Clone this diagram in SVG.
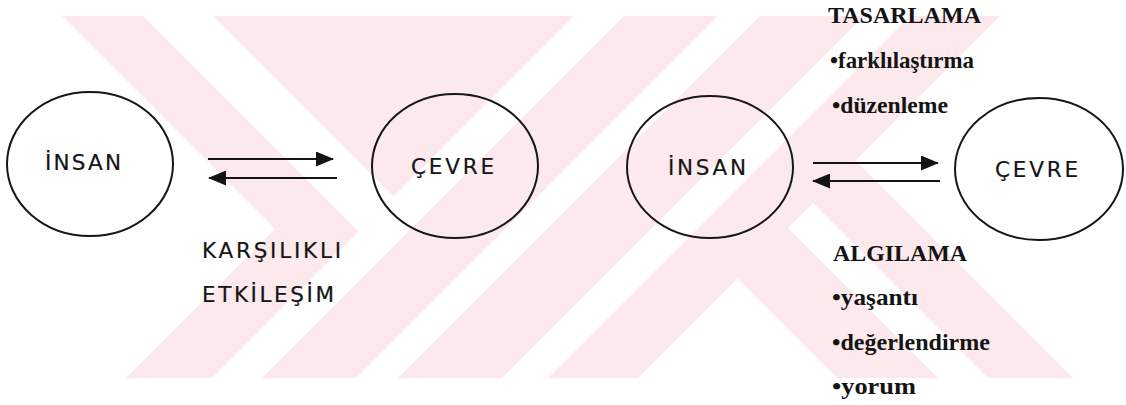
<svg xmlns="http://www.w3.org/2000/svg" width="1126" height="405" viewBox="0 0 1126 405">
  <style>
    .ring { fill: none; stroke: #161616; stroke-width: 2; }
    .sans { font-family: "DejaVu Sans", "Liberation Sans", sans-serif; font-size: 21.5px; fill: #151515; stroke: #151515; stroke-width: 0.2; }
    .serif { font-family: "Liberation Serif", "DejaVu Serif", serif; font-size: 24px; font-weight: bold; fill: #141414; }
    .link { stroke: #141414; stroke-width: 2; fill: none; marker-end: url(#head); }
    .wm { fill: #fce9ed; }
    .gap { fill: #ffffff; }
  </style>
  <defs>
    <marker id="head" markerUnits="userSpaceOnUse" markerWidth="18" markerHeight="15" refX="17" refY="7.5" orient="auto">
      <path d="M0,0 L18,7.5 L0,15 Z" fill="#141414"/>
    </marker>
  </defs>
  <rect width="1126" height="405" fill="#ffffff"/>

  <!-- background stripe pattern: a large striped X -->
  <g id="backdrop">
    <polygon class="wm" points="62,16 1000,16 855.5,160.5 1073,378 126,378 275,229"/>
    <polygon class="gap" points="143,16 213,16 393.5,196.5 358.5,231.5"/>
    <polygon class="gap" points="574,16 624,16 262,378 212,378"/>
    <polygon class="gap" points="718,16 760,16 398,378 356,378"/>
    <polygon class="gap" points="864,16 910,16 548,378 502,378"/>
    <polygon class="gap" points="638,378 737.5,278.5 837,378"/>
    <polygon class="gap" points="788,228 813,203 988,378 938,378"/>
  </g>

  <!-- left pair -->
  <g id="insan-1">
    <ellipse class="ring" cx="90" cy="164" rx="83" ry="72"/>
    <text class="sans" x="45" y="170" textLength="76" lengthAdjust="spacing">İNSAN</text>
  </g>
  <g id="cevre-1">
    <ellipse class="ring" cx="455" cy="166" rx="83" ry="72"/>
    <text class="sans" x="411" y="174" textLength="83" lengthAdjust="spacing">ÇEVRE</text>
  </g>
  <g id="label-1">
    <text class="sans" x="202" y="258" textLength="139" lengthAdjust="spacing">KARŞILIKLI</text>
    <text class="sans" x="202" y="302" textLength="132" lengthAdjust="spacing">ETKİLEŞİM</text>
  </g>

  <!-- right pair -->
  <g id="insan-2">
    <ellipse class="ring" cx="710" cy="167" rx="83" ry="71"/>
    <text class="sans" x="668" y="175" textLength="78" lengthAdjust="spacing">İNSAN</text>
  </g>
  <g id="cevre-2">
    <ellipse class="ring" cx="1039" cy="169" rx="84" ry="71"/>
    <text class="sans" x="995" y="177" textLength="83" lengthAdjust="spacing">ÇEVRE</text>
  </g>
  <g id="tasarlama">
    <text class="serif" x="828" y="23" textLength="153" lengthAdjust="spacingAndGlyphs">TASARLAMA</text>
    <text class="serif" x="830" y="68" textLength="144" lengthAdjust="spacingAndGlyphs">•farklılaştırma</text>
    <text class="serif" x="832" y="113" textLength="116" lengthAdjust="spacingAndGlyphs">•düzenleme</text>
  </g>
  <g id="algilama">
    <text class="serif" x="833" y="261" textLength="134" lengthAdjust="spacingAndGlyphs">ALGILAMA</text>
    <text class="serif" x="832" y="305" textLength="86" lengthAdjust="spacingAndGlyphs">•yaşantı</text>
    <text class="serif" x="832" y="350" textLength="158" lengthAdjust="spacingAndGlyphs">•değerlendirme</text>
    <text class="serif" x="832" y="394" textLength="84" lengthAdjust="spacingAndGlyphs">•yorum</text>
  </g>

  <!-- connectors -->
  <g id="connectors">
    <line class="link" x1="208" y1="159" x2="333" y2="159"/>
    <line class="link" x1="337" y1="178" x2="209" y2="178"/>
    <line class="link" x1="813" y1="163" x2="938" y2="163"/>
    <line class="link" x1="940" y1="181" x2="813" y2="181"/>
  </g>
</svg>
